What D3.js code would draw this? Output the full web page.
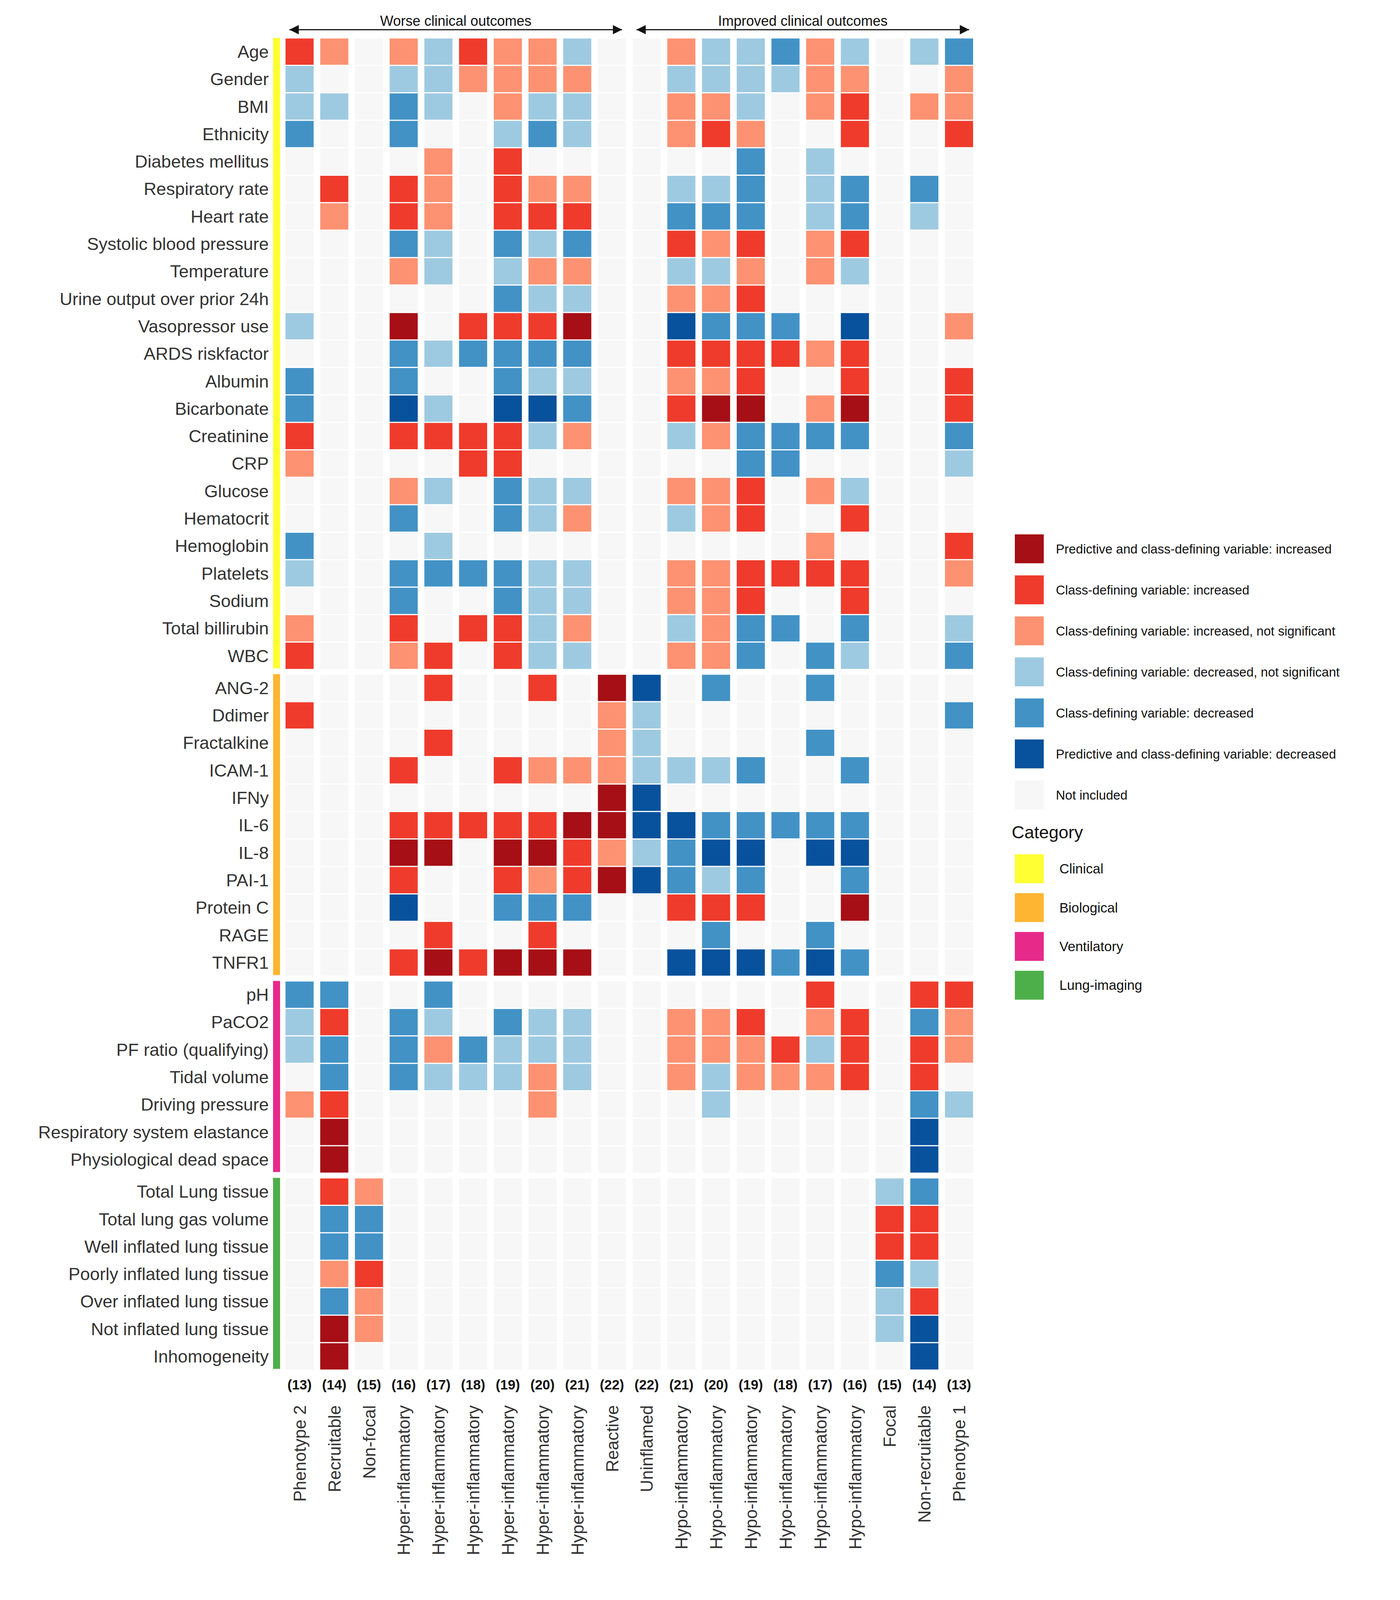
<!DOCTYPE html>
<html><head><meta charset="utf-8">
<script src="https://cdn.jsdelivr.net/npm/d3@7"></script>
<style>body{margin:0;background:#fff}</style>
</head><body>
<svg id="chart" width="3584" height="4134"></svg>
<script>
// columns (classes) and their sizes
var columns = ["Phenotype 2","Recruitable","Non-focal","Hyper-inflammatory","Hyper-inflammatory","Hyper-inflammatory","Hyper-inflammatory","Hyper-inflammatory","Hyper-inflammatory","Reactive","Uninflamed","Hypo-inflammatory","Hypo-inflammatory","Hypo-inflammatory","Hypo-inflammatory","Hypo-inflammatory","Hypo-inflammatory","Focal","Non-recruitable","Phenotype 1"];
var counts = [13,14,15,16,17,18,19,20,21,22,22,21,20,19,18,17,16,15,14,13];

var categories = ["Clinical","Biological","Ventilatory","Lung-imaging"];
var categoryColors = ["#ffff33","#fdb532","#e7298a","#4daf4a"];

// codes: D predictive increased, R increased, r increased ns, b decreased ns, B decreased, K predictive decreased, 0 not included
var clinicalRows = [
  ["Age","R r 0 r b R r r b 0 0 r b b B r b 0 b B"],
  ["Gender","b 0 0 b b r r r r 0 0 b b b b r r 0 0 r"],
  ["BMI","b b 0 B b 0 r b b 0 0 r r b 0 r R 0 r r"],
  ["Ethnicity","B 0 0 B 0 0 b B b 0 0 r R r 0 0 R 0 0 R"],
  ["Diabetes mellitus","0 0 0 0 r 0 R 0 0 0 0 0 0 B 0 b 0 0 0 0"],
  ["Respiratory rate","0 R 0 R r 0 R r r 0 0 b b B 0 b B 0 B 0"],
  ["Heart rate","0 r 0 R r 0 R R R 0 0 B B B 0 b B 0 b 0"],
  ["Systolic blood pressure","0 0 0 B b 0 B b B 0 0 R r R 0 r R 0 0 0"],
  ["Temperature","0 0 0 r b 0 b r r 0 0 b b r 0 r b 0 0 0"],
  ["Urine output over prior 24h","0 0 0 0 0 0 B b b 0 0 r r R 0 0 0 0 0 0"],
  ["Vasopressor use","b 0 0 D 0 R R R D 0 0 K B B B 0 K 0 0 r"],
  ["ARDS riskfactor","0 0 0 B b B B B B 0 0 R R R R r R 0 0 0"],
  ["Albumin","B 0 0 B 0 0 B b b 0 0 r r R 0 0 R 0 0 R"],
  ["Bicarbonate","B 0 0 K b 0 K K B 0 0 R D D 0 r D 0 0 R"],
  ["Creatinine","R 0 0 R R R R b r 0 0 b r B B B B 0 0 B"],
  ["CRP","r 0 0 0 0 R R 0 0 0 0 0 0 B B 0 0 0 0 b"],
  ["Glucose","0 0 0 r b 0 B b b 0 0 r r R 0 r b 0 0 0"],
  ["Hematocrit","0 0 0 B 0 0 B b r 0 0 b r R 0 0 R 0 0 0"],
  ["Hemoglobin","B 0 0 0 b 0 0 0 0 0 0 0 0 0 0 r 0 0 0 R"],
  ["Platelets","b 0 0 B B B B b b 0 0 r r R R R R 0 0 r"],
  ["Sodium","0 0 0 B 0 0 B b b 0 0 r r R 0 0 R 0 0 0"],
  ["Total billirubin","r 0 0 R 0 R R b r 0 0 b r B B 0 B 0 0 b"],
  ["WBC","R 0 0 r R 0 R b b 0 0 r r B 0 B b 0 0 B"]
];
var biologicalRows = [
  ["ANG-2","0 0 0 0 R 0 0 R 0 D K 0 B 0 0 B 0 0 0 0"],
  ["Ddimer","R 0 0 0 0 0 0 0 0 r b 0 0 0 0 0 0 0 0 B"],
  ["Fractalkine","0 0 0 0 R 0 0 0 0 r b 0 0 0 0 B 0 0 0 0"],
  ["ICAM-1","0 0 0 R 0 0 R r r r b b b B 0 0 B 0 0 0"],
  ["IFNy","0 0 0 0 0 0 0 0 0 D K 0 0 0 0 0 0 0 0 0"],
  ["IL-6","0 0 0 R R R R R D D K K B B B B B 0 0 0"],
  ["IL-8","0 0 0 D D 0 D D R r b B K K 0 K K 0 0 0"],
  ["PAI-1","0 0 0 R 0 0 R r R D K B b B 0 0 B 0 0 0"],
  ["Protein C","0 0 0 K 0 0 B B B 0 0 R R R 0 0 D 0 0 0"],
  ["RAGE","0 0 0 0 R 0 0 R 0 0 0 0 B 0 0 B 0 0 0 0"],
  ["TNFR1","0 0 0 R D R D D D 0 0 K K K B K B 0 0 0"]
];
var ventilatoryRows = [
  ["pH","B B 0 0 B 0 0 0 0 0 0 0 0 0 0 R 0 0 R R"],
  ["PaCO2","b R 0 B b 0 B b b 0 0 r r R 0 r R 0 B r"],
  ["PF ratio (qualifying)","b B 0 B r B b b b 0 0 r r r R b R 0 R r"],
  ["Tidal volume","0 B 0 B b b b r b 0 0 r b r r r R 0 R 0"],
  ["Driving pressure","r R 0 0 0 0 0 r 0 0 0 0 b 0 0 0 0 0 B b"],
  ["Respiratory system elastance","0 D 0 0 0 0 0 0 0 0 0 0 0 0 0 0 0 0 K 0"],
  ["Physiological dead space","0 D 0 0 0 0 0 0 0 0 0 0 0 0 0 0 0 0 K 0"]
];
var imagingRows = [
  ["Total Lung tissue","0 R r 0 0 0 0 0 0 0 0 0 0 0 0 0 0 b B 0"],
  ["Total lung gas volume","0 B B 0 0 0 0 0 0 0 0 0 0 0 0 0 0 R R 0"],
  ["Well inflated lung tissue","0 B B 0 0 0 0 0 0 0 0 0 0 0 0 0 0 R R 0"],
  ["Poorly inflated lung tissue","0 r R 0 0 0 0 0 0 0 0 0 0 0 0 0 0 B b 0"],
  ["Over inflated lung tissue","0 B r 0 0 0 0 0 0 0 0 0 0 0 0 0 0 b R 0"],
  ["Not inflated lung tissue","0 D r 0 0 0 0 0 0 0 0 0 0 0 0 0 0 b K 0"],
  ["Inhomogeneity","0 D 0 0 0 0 0 0 0 0 0 0 0 0 0 0 0 0 K 0"]
];

var codes = ["D","R","r","b","B","K","0"];
var codeColors = ["#a50f15","#ef3b2c","#fc9272","#9ecae1","#4292c6","#08519c","#f7f7f7"];
var legendLabels = ["Predictive and class-defining variable: increased","Class-defining variable: increased","Class-defining variable: increased, not significant","Class-defining variable: decreased, not significant","Class-defining variable: decreased","Predictive and class-defining variable: decreased","Not included"];

var groups = [clinicalRows, biologicalRows, ventilatoryRows, imagingRows];
var color = d3.scaleOrdinal().domain(codes).range(codeColors);
var catColor = d3.scaleOrdinal().domain(categories).range(categoryColors);

var svg = d3.select("#chart");
var font = "Liberation Sans, Arial, sans-serif";

var gridLeft = 722, rowH = 70.3, gap = 12, gridTop = 97;
var x = d3.scaleBand().domain(d3.range(columns.length)).range([gridLeft, gridLeft + 88.9 * 20]).paddingInner(0.19).paddingOuter(0.1);

// flatten rows with y positions
var rows = [];
var yCursor = gridTop;
var blocks = [];
groups.forEach(function(g, gi) {
  var start = yCursor;
  g.forEach(function(r) {
    rows.push({name: r[0], cells: r[1].split(" "), y: yCursor, cat: categories[gi]});
    yCursor += rowH;
  });
  blocks.push({cat: categories[gi], y0: start, y1: yCursor});
  yCursor += gap;
});

// category bars
svg.selectAll("rect.cat").data(blocks).enter().append("rect")
  .attr("x", 699).attr("width", 18)
  .attr("y", d => d.y0).attr("height", d => d.y1 - d.y0 - 3)
  .attr("fill", d => catColor(d.cat));

// cells
var rowG = svg.selectAll("g.row").data(rows).enter().append("g");
rowG.selectAll("rect").data(d => d.cells.map((c, i) => ({c: c, i: i, y: d.y}))).enter().append("rect")
  .attr("x", d => x(d.i)).attr("width", x.bandwidth())
  .attr("y", d => d.y + 1.5).attr("height", rowH - 3)
  .attr("fill", d => color(d.c));

rowG.append("text")
  .attr("x", 688).attr("y", d => d.y + rowH / 2)
  .attr("dy", "0.35em").attr("text-anchor", "end")
  .attr("font-family", font).attr("font-size", 45).attr("fill", "#333")
  .text(d => d.name);

// counts and column labels
var bottom = yCursor - gap;
svg.selectAll("text.count").data(counts).enter().append("text")
  .attr("x", (d, i) => x(i) + x.bandwidth() / 2).attr("y", bottom + 50)
  .attr("text-anchor", "middle").attr("font-family", font).attr("font-weight", "bold")
  .attr("font-size", 35).attr("fill", "#111")
  .text(d => "(" + d + ")");

svg.selectAll("text.col").data(columns).enter().append("text")
  .attr("transform", (d, i) => `translate(${x(i) + x.bandwidth() / 2 + 16}, ${bottom + 90}) rotate(-90)`)
  .attr("text-anchor", "end").attr("font-family", font)
  .attr("font-size", 44).attr("fill", "#333")
  .text(d => d);

// top arrows
svg.append("defs").append("marker").attr("id", "ah").attr("viewBox", "0 0 10 10")
  .attr("refX", 10).attr("refY", 5).attr("markerWidth", 8).attr("markerHeight", 8).attr("orient", "auto-start-reverse")
  .append("path").attr("d", "M0,0L10,5L0,10z").attr("fill", "#111");
var arrows = [
  {label: "Worse clinical outcomes", from: 0, to: 9},
  {label: "Improved clinical outcomes", from: 10, to: 19}
];
arrows.forEach(function(a) {
  var x0 = x(a.from) + 10, x1 = x(a.to) + x.bandwidth() - 10;
  svg.append("line").attr("x1", x0).attr("x2", x1).attr("y1", 76).attr("y2", 76)
    .attr("stroke", "#111").attr("stroke-width", 3)
    .attr("marker-start", "url(#ah)").attr("marker-end", "url(#ah)");
  svg.append("text").attr("x", (x0 + x1) / 2).attr("y", 66).attr("text-anchor", "middle")
    .attr("font-family", font).attr("font-size", 36).attr("fill", "#111").text(a.label);
});

// legend
var leg = svg.append("g");
legendLabels.forEach(function(l, i) {
  var y = 1368 + i * 105;
  leg.append("rect").attr("x", 2598).attr("y", y).attr("width", 74).attr("height", 74).attr("fill", codeColors[i]);
  leg.append("text").attr("x", 2703).attr("y", y + 37).attr("dy", "0.35em")
    .attr("font-family", font).attr("font-size", 33).attr("fill", "#111").text(l);
});
leg.append("text").attr("x", 2590).attr("y", 2130).attr("dy", "0.35em")
  .attr("font-family", font).attr("font-size", 45).attr("fill", "#111").text("Category");
categories.forEach(function(c, i) {
  var y = 2187 + i * 99.4;
  leg.append("rect").attr("x", 2598).attr("y", y).attr("width", 74).attr("height", 74).attr("fill", catColor(c));
  leg.append("text").attr("x", 2712).attr("y", y + 37).attr("dy", "0.35em")
    .attr("font-family", font).attr("font-size", 35).attr("fill", "#111").text(c);
});
</script>
</body></html>
